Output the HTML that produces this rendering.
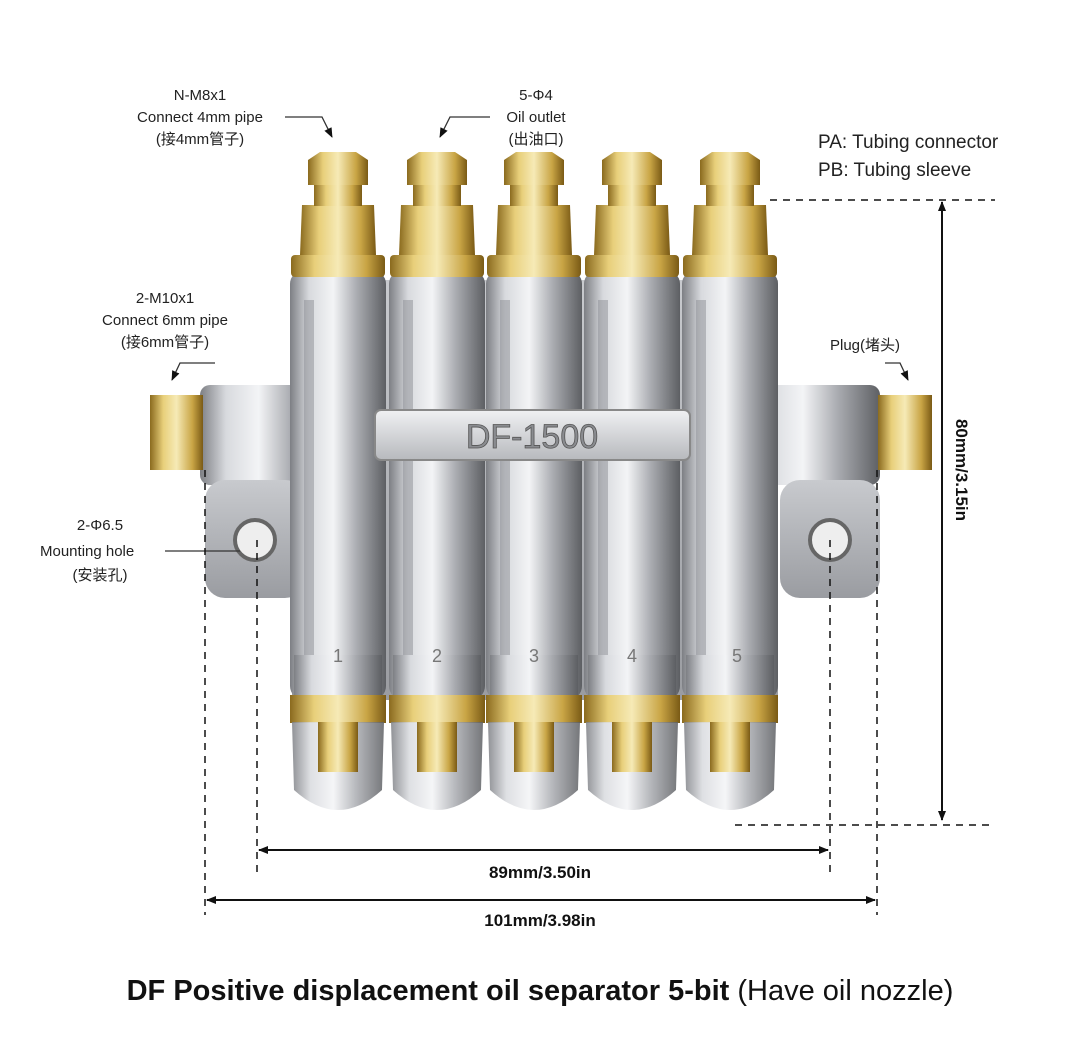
<!DOCTYPE html>
<html><head><meta charset="utf-8"><style>
html,body{margin:0;padding:0;background:#fff;}
svg{display:block}
text{font-family:"Liberation Sans","Noto Sans CJK SC",sans-serif;}
</style></head><body>
<svg width="1066" height="1054" viewBox="0 0 1066 1054" xmlns="http://www.w3.org/2000/svg">
<defs>
<linearGradient id="brass" x1="0" x2="1" y1="0" y2="0">
<stop offset="0" stop-color="#8a6a1e"/><stop offset="0.25" stop-color="#e8cf7a"/><stop offset="0.5" stop-color="#f6eab6"/><stop offset="0.8" stop-color="#c9a545"/><stop offset="1" stop-color="#7a5a15"/>
</linearGradient>
<linearGradient id="silv" x1="0" x2="1" y1="0" y2="0">
<stop offset="0" stop-color="#7d7f84"/><stop offset="0.2" stop-color="#d8dade"/><stop offset="0.45" stop-color="#f3f4f6"/><stop offset="0.7" stop-color="#a9abb0"/><stop offset="1" stop-color="#5d5f63"/>
</linearGradient>
<linearGradient id="body" x1="0" x2="0" y1="0" y2="1">
<stop offset="0" stop-color="#c8cace"/><stop offset="1" stop-color="#9a9ca1"/>
</linearGradient>
<linearGradient id="plate" x1="0" x2="0" y1="0" y2="1">
<stop offset="0" stop-color="#f0f1f3"/><stop offset="1" stop-color="#b7b9bd"/>
</linearGradient>
<marker id="ah" markerWidth="10" markerHeight="10" refX="9" refY="5" orient="auto" markerUnits="userSpaceOnUse"><path d="M0,1 L10,5 L0,9 Z" fill="#111"/></marker>
<g id="col">
<rect x="-48" y="270" width="96" height="430" rx="14" fill="url(#silv)"/>
<rect x="-34" y="300" width="10" height="380" fill="#8c8e93" opacity="0.5"/>
<rect x="-44" y="655" width="88" height="45" fill="url(#silv)"/>
<rect x="-48" y="695" width="96" height="28" fill="url(#brass)"/>
<path d="M-46,722 L46,722 L44,790 Q0,830 -44,790 Z" fill="url(#silv)" opacity="0.85"/>
<rect x="-20" y="722" width="40" height="50" fill="url(#brass)"/>
<rect x="-47" y="255" width="94" height="22" rx="4" fill="url(#brass)"/>
<path d="M-38,255 L-36,205 L36,205 L38,255 Z" fill="url(#brass)"/>
<rect x="-24" y="184" width="48" height="22" fill="url(#brass)"/>
<path d="M-30,185 L-30,160 L-18,152 L18,152 L30,160 L30,185 Z" fill="url(#brass)"/>
</g>
</defs>

<rect x="200" y="385" width="130" height="100" rx="10" fill="url(#silv)"/>
<rect x="205" y="480" width="100" height="118" rx="20" fill="url(#body)"/>
<circle cx="255" cy="540" r="20" fill="#eee" stroke="#666" stroke-width="4"/>
<path d="M150,395 L203,395 L203,470 L150,470 Z" fill="url(#brass)"/>
<rect x="740" y="385" width="140" height="100" rx="10" fill="url(#silv)"/>
<rect x="780" y="480" width="100" height="118" rx="20" fill="url(#body)"/>
<circle cx="830" cy="540" r="20" fill="#eee" stroke="#666" stroke-width="4"/>
<path d="M878,395 L932,395 L932,470 L878,470 Z" fill="url(#brass)"/>
<rect x="292" y="280" width="486" height="420" fill="url(#body)"/>

<use href="#col" transform="translate(338,0)"/>
<use href="#col" transform="translate(437,0)"/>
<use href="#col" transform="translate(534,0)"/>
<use href="#col" transform="translate(632,0)"/>
<use href="#col" transform="translate(730,0)"/>

<g font-size="18" fill="#777" font-family="Liberation Serif,serif" text-anchor="middle">
<text x="338" y="662">1</text><text x="437" y="662">2</text><text x="534" y="662">3</text><text x="632" y="662">4</text><text x="737" y="662">5</text>
</g>

<rect x="375" y="410" width="315" height="50" rx="6" fill="url(#plate)" stroke="#888" stroke-width="2"/>
<text x="532" y="448" font-size="34" text-anchor="middle" fill="#8a8c90" stroke="#555" stroke-width="0.8">DF-1500</text>

<g font-size="15" fill="#222" text-anchor="middle">
<text x="200" y="100">N-M8x1</text>
<text x="200" y="122">Connect 4mm pipe</text>
<text x="200" y="144">(接4mm管子)</text>
<text x="536" y="100">5-Φ4</text>
<text x="536" y="122">Oil outlet</text>
<text x="536" y="144">(出油口)</text>
<text x="165" y="303">2-M10x1</text>
<text x="165" y="325">Connect 6mm pipe</text>
<text x="165" y="347">(接6mm管子)</text>
<text x="100" y="530">2-Φ6.5</text>
<text x="100" y="580">(安装孔)</text>
<text x="865" y="350">Plug(堵头)</text>
</g>
<text x="40" y="556" font-size="15" fill="#222">Mounting hole</text>
<g font-size="19" fill="#222"><text x="818" y="148">PA: Tubing connector</text><text x="818" y="176">PB: Tubing sleeve</text></g>
<g stroke="#333" stroke-width="1.3" fill="none">
<path d="M285,117 L322,117 L332,137" marker-end="url(#ah)"/>
<path d="M490,117 L450,117 L440,137" marker-end="url(#ah)"/>
<path d="M215,363 L180,363 L172,380" marker-end="url(#ah)"/>
<path d="M165,551 L240,551"/>
<path d="M885,363 L900,363 L908,380" marker-end="url(#ah)"/>
</g>

<g stroke="#111" stroke-width="1.5" stroke-dasharray="7,6" fill="none">
<path d="M770,200 L995,200"/><path d="M735,825 L990,825"/>
<path d="M257,540 L257,878"/><path d="M830,540 L830,878"/>
<path d="M205,470 L205,915"/><path d="M877,470 L877,915"/>
</g>
<g stroke="#111" stroke-width="2" fill="none">
<path d="M942,510 L942,820" marker-end="url(#ah)"/>
<path d="M942,510 L942,202" marker-end="url(#ah)"/>
<path d="M540,850 L828,850" marker-end="url(#ah)"/><path d="M540,850 L259,850" marker-end="url(#ah)"/>
<path d="M540,900 L875,900" marker-end="url(#ah)"/><path d="M540,900 L207,900" marker-end="url(#ah)"/>
</g>
<g font-size="17" font-weight="bold" fill="#111" text-anchor="middle">
<text x="540" y="878">89mm/3.50in</text>
<text x="540" y="926">101mm/3.98in</text>
<text transform="translate(956,470) rotate(90)">80mm/3.15in</text>
</g>
<text x="540" y="1000" font-size="29" font-weight="bold" text-anchor="middle" fill="#111">DF Positive displacement oil separator 5-bit <tspan font-weight="normal">(Have oil nozzle)</tspan></text>
</svg>
</body></html>
